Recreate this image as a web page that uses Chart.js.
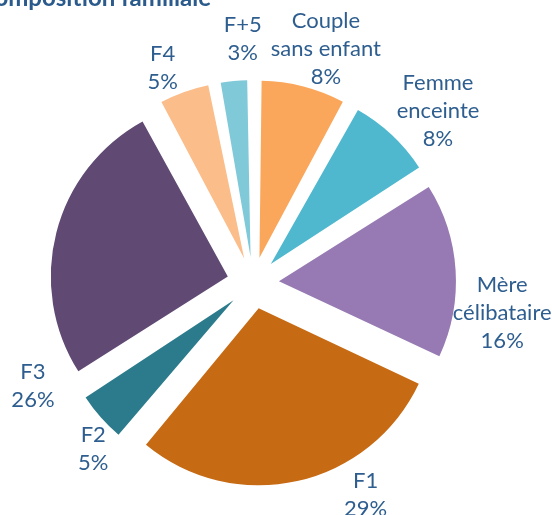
<!DOCTYPE html>
<html>
<head>
<meta charset="utf-8">
<script src="https://cdn.jsdelivr.net/npm/chart.js@4/dist/chart.umd.min.js"></script>
<style>
html,body{margin:0;padding:0;background:#fff;}
#wrap{width:552px;height:515px;position:relative;}
</style>
</head>
<body>
<div id="wrap"><canvas id="c" width="552" height="515"></canvas></div>
<script>
// ---- data ----
const title = "Composition familiale";
const categories = [["Couple","sans enfant"],["Femme","enceinte"],["Mère","célibataire"],["F1"],["F2"],["F3"],["F4"],["F+5"]];
const values = [8, 8, 16, 29, 5, 26, 5, 3];
const colors = ["#FAA75C","#4FB8CF","#977AB3","#C66A14","#2C7B8C","#604A73","#FBBD8A","#80C9D9"];

// label placement (polar nudges relative to slice middle)
const labelAngleShift = [2.9, 3.8, 10.5, -15.4, -4.6, -39.5, -3, 3];
const labelDist = [245, 253, 251, 240, 230, 243, 233, 244];
const TEXT_COLOR = "#2E5E8F";
const EXPLODE = 104; // chart.js offset (translation = offset/4)

const equalRadius = {
  id: 'equalRadius',
  beforeDatasetsDraw(chart) {
    const meta = chart.getDatasetMeta(0);
    const base = meta.controller.outerRadius;
    meta.data.forEach(el => {
      const off = (el.options.offset || 0) / 4;
      const fix = 1 - Math.sin(Math.min(Math.PI, el.circumference || 0));
      el.outerRadius = base - off * fix;
    });
  }
};

const sliceLabels = {
  id: 'sliceLabels',
  afterDatasetsDraw(chart) {
    const meta = chart.getDatasetMeta(0);
    const ctx = chart.ctx;
    ctx.save();
    ctx.font = "22px Lato";
    ctx.fillStyle = TEXT_COLOR;
    ctx.textAlign = "center";
    ctx.textBaseline = "middle";
    const lh = 28;
    meta.data.forEach((el, i) => {
      const a = (el.startAngle + el.endAngle) / 2 + labelAngleShift[i] * Math.PI / 180;
      const x = el.x + Math.cos(a) * labelDist[i];
      const y = el.y + Math.sin(a) * labelDist[i];
      const lines = categories[i].concat([values[i] + "%"]);
      const y0 = y - (lines.length - 1) * lh / 2;
      lines.forEach((t, k) => ctx.fillText(t, x, y0 + k * lh));
    });
    ctx.restore();
  }
};

const titlePlugin = {
  id: 'cutTitle',
  afterDraw(chart) {
    const ctx = chart.ctx;
    ctx.save();
    ctx.font = "bold 24px Lato";
    ctx.fillStyle = "#2B5A8C";
    ctx.textAlign = "right";
    ctx.textBaseline = "alphabetic";
    ctx.fillText(title, 211, 6);
    ctx.restore();
  }
};

new Chart(document.getElementById('c'), {
  type: 'pie',
  data: {
    labels: categories.map(c => c.join(' ')),
    datasets: [{
      data: values,
      backgroundColor: colors,
      borderWidth: 0,
      offset: EXPLODE,
      radius: 177
    }]
  },
  options: {
    responsive: false,
    animation: false,
    layout: { padding: { left: 0, right: 46, top: 51, bottom: 0 } },
    plugins: { legend: { display: false }, tooltip: { enabled: false }, title: { display: false } }
  },
  plugins: [equalRadius, sliceLabels, titlePlugin]
});
</script>
</body>
</html>
